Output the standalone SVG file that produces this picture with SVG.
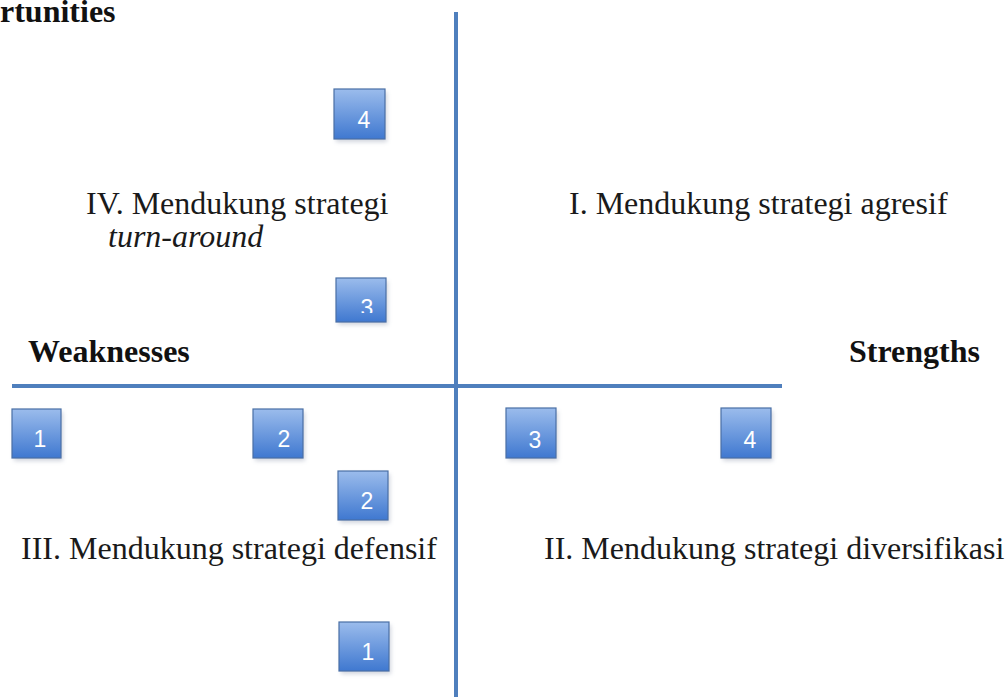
<svg xmlns="http://www.w3.org/2000/svg" width="1006" height="697" viewBox="0 0 1006 697">
<style>
.t{font-family:"Liberation Serif","Times New Roman",serif;font-size:32px;fill:#1a1a1a}
.b{font-family:"Liberation Serif","Times New Roman",serif;font-size:32px;font-weight:bold;fill:#111}
.i{font-style:italic}
.box{fill:url(#g);stroke:#4a6fa5;stroke-width:1.2}
.sh{fill:#9aa3b5;opacity:0.45;filter:url(#blur)}
.n{font-family:"Liberation Sans",Arial,sans-serif;font-size:23px;fill:#fff;text-anchor:middle}
.ax{stroke:#4f7fbd;stroke-width:4;fill:none}
</style>
<defs>
<linearGradient id="g" x1="0" y1="0" x2="0" y2="1">
<stop offset="0" stop-color="#9bbcec"/>
<stop offset="1" stop-color="#3f78d0"/>
</linearGradient>
<filter id="blur" x="-20%" y="-20%" width="140%" height="140%"><feGaussianBlur stdDeviation="2"/></filter>
<clipPath id="c3"><rect x="334" y="278" width="52" height="35"/></clipPath>
</defs>
<g id="connectors">
<line class="ax" x1="456" y1="12" x2="456" y2="697"/>
<line class="ax" x1="12" y1="386" x2="782" y2="386"/>
</g>
<g id="labels">
<text class="b" x="0" y="22">rtunities</text>
<text class="b" x="28" y="362">Weaknesses</text>
<text class="b" x="849" y="362">Strengths</text>
<text class="t" x="86" y="214">IV. Mendukung strategi</text>
<text class="t i" x="108" y="247">turn-around</text>
<text class="t" x="569" y="214">I. Mendukung strategi agresif</text>
<text class="t" x="21" y="559">III. Mendukung strategi defensif</text>
<text class="t" x="544" y="559">II. Mendukung strategi diversifikasi</text>
</g>
<g id="box-top4"><rect class="sh" x="336" y="92" width="51" height="50"/><rect class="box" x="334" y="89" width="51" height="50"/><text class="n" x="364" y="128">4</text></g>
<g id="box-top3"><rect class="sh" x="338" y="281" width="50" height="44"/><rect class="box" x="336" y="278" width="50" height="44"/><text class="n" x="367" y="316" clip-path="url(#c3)">3</text></g>
<g id="box-w1"><rect class="sh" x="14" y="412" width="49" height="49"/><rect class="box" x="12" y="409" width="49" height="49"/><text class="n" x="40" y="447">1</text></g>
<g id="box-w2"><rect class="sh" x="255" y="412" width="50" height="49"/><rect class="box" x="253" y="409" width="50" height="49"/><text class="n" x="284" y="447">2</text></g>
<g id="box-s3"><rect class="sh" x="508" y="411" width="50" height="50"/><rect class="box" x="506" y="408" width="50" height="50"/><text class="n" x="535" y="448">3</text></g>
<g id="box-s4"><rect class="sh" x="723" y="411" width="50" height="50"/><rect class="box" x="721" y="408" width="50" height="50"/><text class="n" x="750" y="448">4</text></g>
<g id="box-bot2"><rect class="sh" x="340" y="474" width="50" height="49"/><rect class="box" x="338" y="471" width="50" height="49"/><text class="n" x="367" y="509">2</text></g>
<g id="box-bot1"><rect class="sh" x="341" y="625" width="50" height="49"/><rect class="box" x="339" y="622" width="50" height="49"/><text class="n" x="368" y="660">1</text></g>
</svg>
